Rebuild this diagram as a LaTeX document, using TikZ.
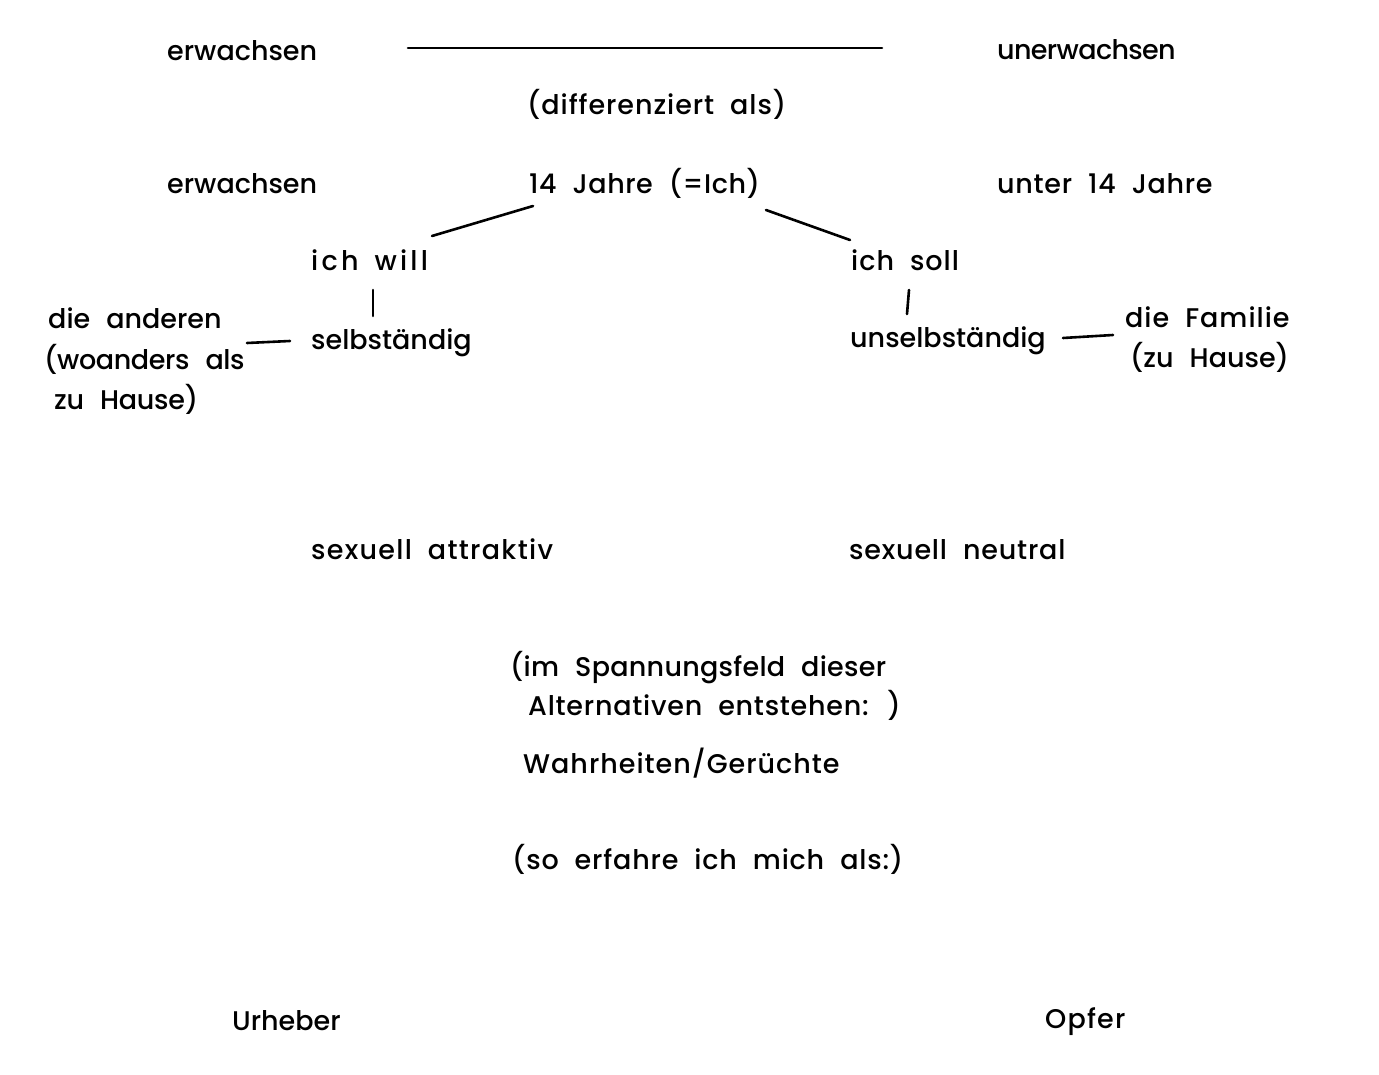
\documentclass[tikz,border=0pt]{standalone}
\usepackage{fontspec}
\setmainfont{Poppins}[UprightFont={* Medium}]
\newcommand\diagfont{\fontsize{27}{32}\selectfont\spaceskip=16pt plus 0pt minus 0pt\relax}
\newcommand\lsf[1]{\diagfont\addfontfeature{LetterSpace=#1}}
\begin{document}
\begin{tikzpicture}[x=1pt,y=-1pt,
  txt/.style={anchor=base west,inner sep=0pt,font=\diagfont},
  ls/.style={txt,font=\lsf{#1}},
  ln/.style={line width=2.6pt,line cap=round}]
\useasboundingbox (0,0) rectangle (1379,1075);
% row 1
\node[txt] (e1) at (167,61) {erwachsen};
\node[ls=-2.4] (u1) at (997,60) {unerwachsen};
\coordinate (l1a) at (408,48);
\coordinate (l1b) at (882,48);
\draw[ln] (l1a) -- (l1b);
\node[ls=3.5] (diff) at (527,115) {(differenziert als)};
% row 2
\node[txt] (e2) at (167,194) {erwachsen};
\node[ls=2] (ich) at (529,194) {14 Jahre (=Ich)};
\node[ls=2.6] (u2) at (997,194) {unter 14 Jahre};
\node[ls=12] (will) at (311,271) {ich will};
\node[ls=3.7] (soll) at (851,271) {ich soll};
\draw[ln] ([shift={(4,12)}]ich.base west) -- ([shift={(121,-35)}]will.base west);
\draw[ln] ([shift={(237,16)}]ich.base west) -- ([shift={(-1,-31)}]soll.base west);
% selbstaendig
\node[txt] (selb) at (311,349) {selbständig};
\node[txt] (unselb) at (850,348) {unselbständig};
\draw[ln] ([shift={(62,19)}]will.base west) -- ([shift={(62,-33)}]selb.base west);
\draw[ln] ([shift={(58,19)}]soll.base west) -- ([shift={(57,-34)}]unselb.base west);
\node[txt] (and1) at (48,329) {die anderen};
\node[ls=-1.4] (and2) at (44,369) {(woanders als};
\node[ls=-1] (and3) at (54,409) {zu Hause)};
\draw[ln] ([shift={(-64,-6)}]selb.base west) -- ([shift={(-21,-8)}]selb.base west);
\node[ls=3.7] (fam1) at (1125,327) {die Familie};
\node[txt] (fam2) at (1130,367) {(zu Hause)};
\draw[ln] ([shift={(213,-10)}]unselb.base west) -- ([shift={(263,-13)}]unselb.base west);
% sexuell
\node[ls=4.8] (attr) at (311,559) {sexuell attraktiv};
\node[ls=3] (neut) at (849,559) {sexuell neutral};
% middle block
\node[ls=1] (sp1) at (510,676) {(im Spannungsfeld dieser};
\node[ls=2.8] (sp2) at (528,715) {Alternativen entstehen: )};
\node[ls=3.7] (wahr) at (523,773) {Wahrheiten/Gerüchte};
\node[ls=3] (erf) at (512,869) {(so erfahre ich mich als:)};
% bottom
\node[txt] (urh) at (232,1030) {Urheber};
\node[ls=4.4] (opf) at (1045,1028) {Opfer};
\end{tikzpicture}
\end{document}
